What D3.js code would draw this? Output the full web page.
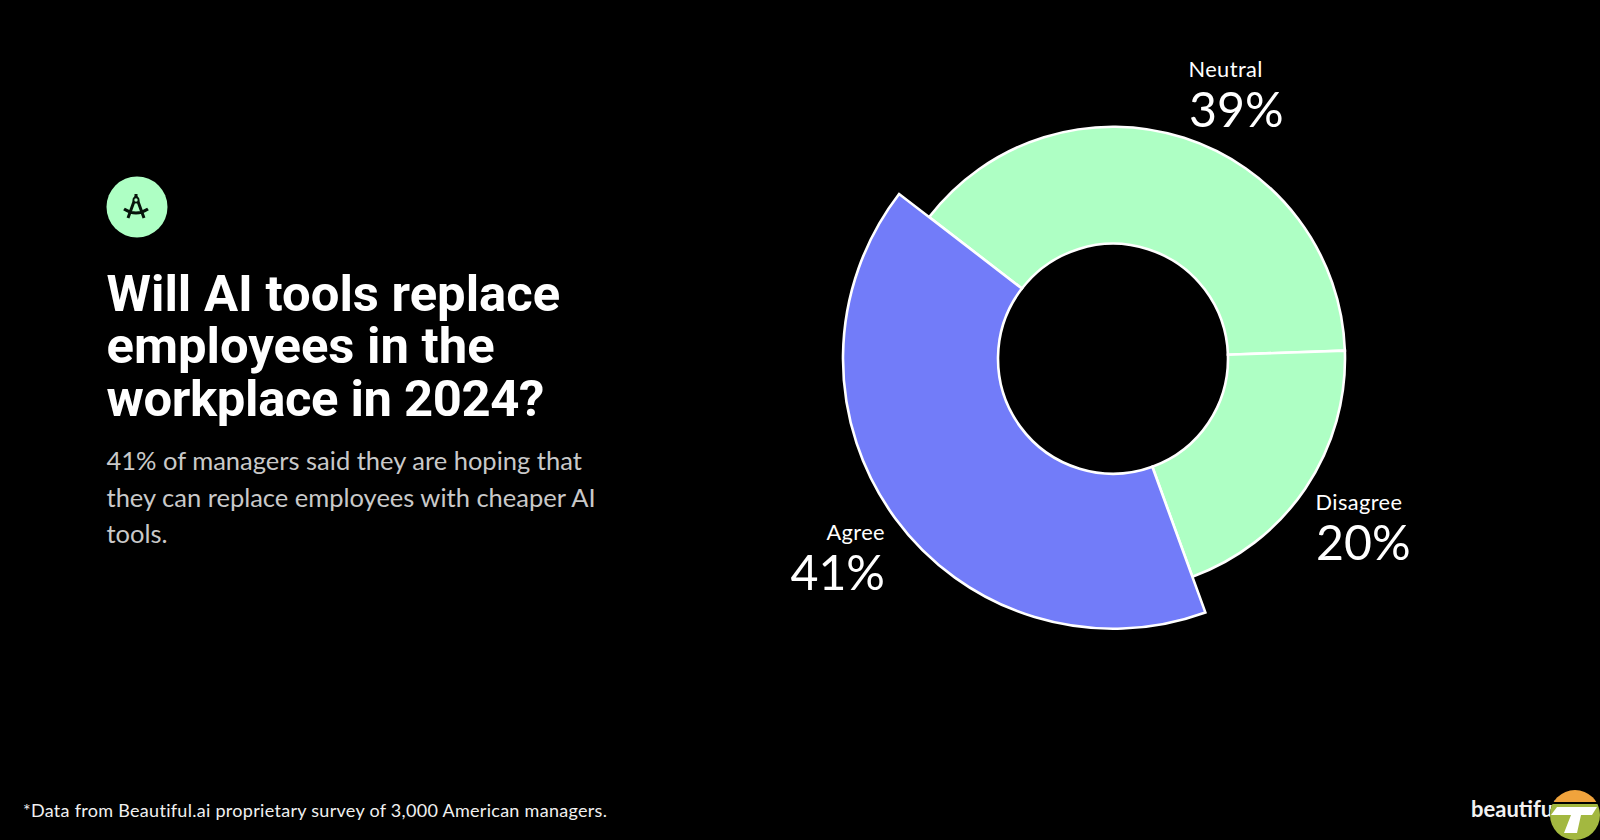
<!DOCTYPE html>
<html><head><meta charset="utf-8">
<script src="https://cdn.jsdelivr.net/npm/d3@7"></script>
<style>html,body{margin:0;padding:0;background:#000;overflow:hidden}svg{display:block}</style>
</head><body><svg id="c" width="1600" height="840"></svg>
<script>
const categories = ["Neutral","Disagree","Agree"];
const values = [39,20,41];
const sliceColors = ["#aeffc4","#aeffc4","#727cf9"];
const outerRadii = [232,232,270];
const titleLines = ["Will AI tools replace","employees in the","workplace in 2024?"];
const bodyLines = ["41% of managers said they are hoping that","they can replace employees with cheaper AI","tools."];
const footnote = "*Data from Beautiful.ai proprietary survey of 3,000 American managers.";

const svg = d3.select("#c");
svg.append("rect").attr("width",1600).attr("height",840).attr("fill","#000");

// Header icon
const icon = svg.append("g").attr("transform","translate(137,207)");
icon.append("circle").attr("r",30.5).attr("fill","#aeffc4");
const glyph = icon.append("g").attr("transform","translate(-1,2)");
glyph.append("path").attr("d","M0,-13 L-8,9 M0,-13 L8,9 M-12,0 Q0,8 12,0 M0,-15 V-12")
  .attr("fill","none").attr("stroke","#07130b").attr("stroke-width",3);
glyph.append("circle").attr("cy",-9).attr("r",2.6).attr("fill","#aeffc4").attr("stroke","#07130b").attr("stroke-width",1.8);

// Title
svg.append("g").selectAll("text").data(titleLines).join("text")
  .attr("x",106.5).attr("y",(d,i)=>310.5+i*52.7)
  .attr("font-family","Roboto").attr("font-weight",700).attr("font-size",50.8)
  .attr("letter-spacing",(d,i)=>i===2?-0.35:0)
  .attr("fill","#fff").text(d=>d);

// Body
svg.append("g").selectAll("text").data(bodyLines).join("text")
  .attr("x",106.5).attr("y",(d,i)=>470+i*36.5)
  .attr("font-family","Lato").attr("font-size",25.5)
  .attr("fill","#c9c9c9").text(d=>d);

// Footnote
svg.append("text").attr("x",23).attr("y",816.5)
  .attr("font-family","Lato").attr("font-size",18).attr("letter-spacing",0.29)
  .attr("fill","#f0f0f0").text(footnote);

// Donut
const cx = 1113, cy = 358.7;
const start = -52.4*Math.PI/180;
const pie = d3.pie().sort(null).startAngle(start).endAngle(start+2*Math.PI);
const arcs = pie(values);
const chart = svg.append("g").attr("transform",`translate(${cx},${cy})`);
chart.selectAll("path").data(arcs).join("path")
  .attr("d",(d,i)=>d3.arc().innerRadius(115).outerRadius(outerRadii[i])(d))
  .attr("fill",(d,i)=>sliceColors[i])
  .attr("stroke","#fff").attr("stroke-width",2.6).attr("stroke-linejoin","miter");

// Slice labels
const labelPos = [
  {x:1188.5,y:77,anchor:"start",vx:1189,vy:127},
  {x:1315.5,y:510,anchor:"start",vx:1316,vy:560},
  {x:885,y:540,anchor:"end",vx:885,vy:590}
];
categories.forEach((c,i)=>{
  const p = labelPos[i];
  svg.append("text").attr("x",p.x).attr("y",p.y).attr("text-anchor",p.anchor)
    .attr("font-family","Lato").attr("font-size",21.8).attr("letter-spacing",0.4)
    .attr("fill","#fff").text(c);
  svg.append("text").attr("x",p.vx).attr("y",p.vy).attr("text-anchor",p.anchor)
    .attr("font-family","Lato").attr("font-size",48.2)
    .attr("fill","#fff").text(values[i]+"%");
});

// Bottom-right logo
svg.append("text").attr("x",1471).attr("y",816.5)
  .attr("font-family","Lato").attr("font-weight",700).attr("font-size",22)
  .attr("fill","#f2f2f2").text("beautiful");
const defs = svg.append("defs");
defs.append("clipPath").attr("id","capTop").append("rect").attr("x",-26).attr("y",-26).attr("width",52).attr("height",13);
defs.append("clipPath").attr("id","capBot").append("rect").attr("x",-26).attr("y",-11).attr("width",52).attr("height",37);
const logo = svg.append("g").attr("transform","translate(1575,815)");
logo.append("circle").attr("r",25).attr("fill","#000");
logo.append("circle").attr("r",25).attr("fill","#f0a33c").attr("clip-path","url(#capTop)");
logo.append("circle").attr("r",25).attr("fill","#a3b840").attr("clip-path","url(#capBot)");
logo.append("path").attr("d","M-18,-8 L22,-8 L17,0 L6,0 L2,18 L-11,18 L-4,0 L-24,0 Z").attr("fill","#fff");
</script></body></html>
